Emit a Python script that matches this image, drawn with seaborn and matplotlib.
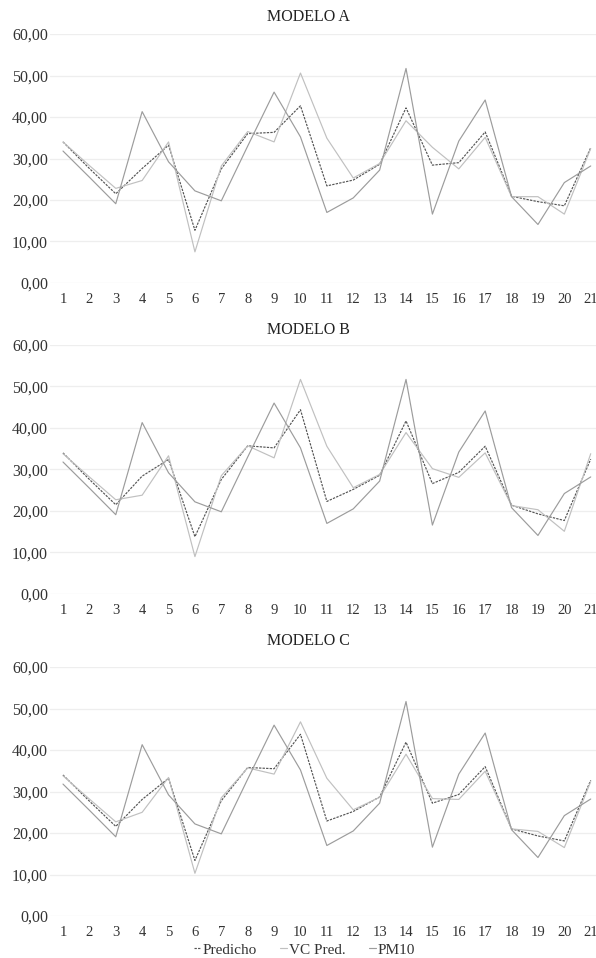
import seaborn as sns
import pandas as pd
from matplotlib import pyplot as plt
import matplotlib.ticker as mtick

# dias 1..21
dias = list(range(1, 22))

# PM10 observado (igual en los tres modelos)
pm10 = [31.8, 25.5, 19.1, 41.3, 29.2, 22.2, 19.8, 33.0, 46.0, 35.2, 17.0,
        20.5, 27.2, 51.7, 16.6, 34.2, 44.1, 20.8, 14.1, 24.2, 28.2]

# Modelo A
pred_a = [34.0, 27.6, 21.5, 27.6, 33.2, 12.7, 27.5, 36.0, 36.3, 42.7, 23.4,
          24.8, 28.6, 42.2, 28.4, 29.0, 36.4, 20.9, 19.6, 18.6, 32.6]
vc_a = [34.0, 28.3, 22.8, 24.7, 34.0, 7.5, 28.2, 36.5, 34.0, 50.6, 34.9,
        25.3, 28.8, 39.1, 32.7, 27.5, 35.1, 20.8, 20.8, 16.6, 32.4]

# Modelo B
pred_b = [34.0, 27.6, 21.5, 28.4, 32.4, 13.8, 27.6, 35.7, 35.2, 44.4, 22.3,
          25.2, 28.6, 41.7, 26.6, 29.3, 35.6, 21.4, 19.3, 17.7, 32.5]
vc_b = [33.8, 28.2, 22.7, 23.8, 33.3, 9.0, 28.5, 35.7, 32.8, 51.7, 35.6,
        25.6, 28.8, 38.9, 30.2, 28.1, 34.0, 21.3, 20.3, 15.1, 33.8]

# Modelo C
pred_c = [34.0, 27.7, 21.6, 28.1, 33.2, 13.4, 27.8, 35.8, 35.5, 43.8, 22.9,
          25.2, 28.7, 41.9, 27.2, 29.3, 36.0, 21.0, 19.3, 18.1, 32.7]
vc_c = [33.8, 28.2, 22.7, 25.0, 33.4, 10.3, 28.5, 35.7, 34.2, 46.8, 33.2,
        25.6, 28.6, 39.0, 28.3, 28.1, 34.9, 21.0, 20.4, 16.5, 32.4]

modelos = ['MODELO A', 'MODELO B', 'MODELO C']
predichos = [pred_a, pred_b, pred_c]
vc_preds = [vc_a, vc_b, vc_c]

series = ['Predicho', 'VC Pred.', 'PM10']
colores = {'Predicho': '#555555', 'VC Pred.': '#c0c0c0', 'PM10': '#9c9c9c'}
trazos = {'Predicho': (2, 1), 'VC Pred.': '', 'PM10': ''}

sns.set_style('white')
plt.rcParams['font.family'] = ['Liberation Serif', 'DejaVu Serif']

fig = plt.figure(figsize=(5.96, 9.58), dpi=100)

# posiciones de los paneles (fraccion de figura)
fondos = [0.7046, 0.3800, 0.0438]
alto = 0.2599
titulos_y = [0.982, 0.656, 0.331]

for i, nombre in enumerate(modelos):
    df = pd.DataFrame({
        'dia': dias * 3,
        'valor': predichos[i] + vc_preds[i] + pm10,
        'serie': [s for s in series for _ in dias],
    })
    ax = fig.add_axes([0.084, fondos[i], 0.916, alto])
    sns.lineplot(data=df, x='dia', y='valor', hue='serie', style='serie',
                 hue_order=series, style_order=series, palette=colores,
                 dashes=trazos, linewidth=0.85, ax=ax, legend=(i == 2))
    ax.set_xlim(0.51, 21.2)
    ax.set_ylim(0, 60)
    ax.set_xticks(dias)
    ax.set_yticks(range(0, 61, 10))
    ax.yaxis.set_major_formatter(mtick.FuncFormatter(lambda v, p: f'{v:.2f}'.replace('.', ',')))
    ax.grid(axis='y', color='#eeeeee', linewidth=0.9)
    ax.set_axisbelow(True)
    sns.despine(ax=ax, left=True, bottom=True)
    ax.tick_params(axis='x', length=0, pad=7, labelsize=10.5, labelcolor='#333333')
    ax.tick_params(axis='y', length=0, pad=1.5, labelsize=11.5, labelcolor='#333333')
    ax.set_xlabel('')
    ax.set_ylabel('')
    fig.text(0.517, titulos_y[i], nombre, ha='center', va='center',
             fontsize=11.5, color='#222222')

    if i == 2:
        sns.move_legend(ax, 'center', bbox_to_anchor=(0.511, 0.0085),
                        bbox_transform=fig.transFigure, ncol=3, title=None,
                        frameon=False, handlelength=0.45, handletextpad=0.15,
                        columnspacing=1.5, fontsize=11)
        for t in ax.get_legend().get_texts():
            t.set_color('#333333')

fig.savefig('out.png', dpi=100)
